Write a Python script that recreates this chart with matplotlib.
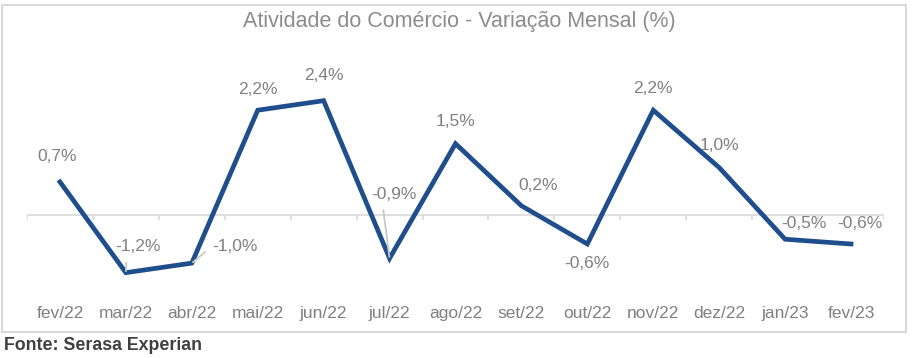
import matplotlib.pyplot as plt
from matplotlib.patches import Rectangle

plt.rcParams['font.family'] = ['Liberation Sans', 'DejaVu Sans']

# dados
meses = ["fev/22", "mar/22", "abr/22", "mai/22", "jun/22", "jul/22", "ago/22",
         "set/22", "out/22", "nov/22", "dez/22", "jan/23", "fev/23"]
variacao = [0.7, -1.2, -1.0, 2.2, 2.4, -0.9, 1.5, 0.2, -0.6, 2.2, 1.0, -0.5, -0.6]

# deslocamento dos rótulos (pixels) e se levam linha de chamada
offsets = [(-3, 25), (12, 26), (43, 17), (0, 21), (0, 25), (4, 64), (0, 22),
           (17, 20), (0, -20), (0, 22), (0, 22), (19, 16), (9, 21)]
leader = [False, True, True, False, False, True, False,
          False, False, False, False, False, False]

AZUL = "#1F4E8C"
CINZA = "#808080"

fig = plt.figure(figsize=(9.18, 3.58), dpi=100)
ax = fig.add_axes([27 / 918, 1 - 287 / 358, 857 / 918, 215 / 358])

x = list(range(len(meses)))
ax.plot(x, variacao, color=AZUL, lw=3.4, solid_joinstyle='miter', zorder=3)

# linha do zero e marcas entre categorias
ax.axhline(0, color="#D9D9D9", lw=1.2, zorder=1)
ax.vlines([i - 0.5 for i in range(len(meses) + 1)], -0.09, 0,
          color="#D9D9D9", lw=1.2, zorder=1)

for i, v in enumerate(variacao):
    txt = f"{v:.1f}%".replace(".", ",")
    dx, dy = offsets[i]
    props = None
    if leader[i]:
        props = dict(arrowstyle='-', color="#C8C8C8", lw=1.3, shrinkA=4, shrinkB=1,
                     relpos=(0.25, 0.0) if i != 2 else (0.0, 0.5))
    ax.annotate(txt, (i, v), xytext=(dx, dy), textcoords='offset pixels',
                ha='center', va='center', fontsize=12.5, color=CINZA,
                arrowprops=props, zorder=4)

ax.set_xlim(-0.5, len(meses) - 0.5)
ax.set_ylim(-1.5, 3.0)
ax.set_xticks(x)
ax.set_xticklabels(meses, fontsize=12.5, color=CINZA)
ax.tick_params(axis='x', length=0, pad=14)
ax.set_yticks([])
for s in ax.spines.values():
    s.set_visible(False)

fig.text(0.5, 1 - 22 / 358, "Atividade do Comércio - Variação Mensal (%)",
         ha='center', va='center', fontsize=15.5, color="#8C8C8C")

# moldura
fig.patches.append(Rectangle((2 / 918, 1 - 332 / 358), 904 / 918, 327 / 358,
                             transform=fig.transFigure, fill=False,
                             edgecolor="#D9D9D9", lw=1.5))

fig.text(4 / 918, 1 - 345 / 358, "Fonte: Serasa Experian", ha='left', va='center',
         fontsize=12.8, fontweight='bold', color="#404040")

fig.savefig("out.png", dpi=100)
